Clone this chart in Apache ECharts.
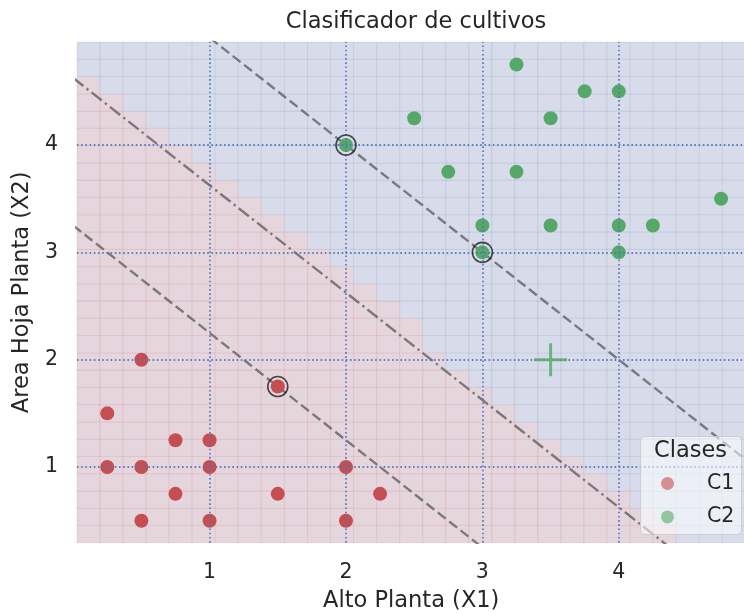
<!DOCTYPE html>
<html>
<head>
<meta charset="utf-8">
<script src="https://cdn.jsdelivr.net/npm/echarts@6/dist/echarts.min.js"></script>
<style>
  html, body { margin: 0; padding: 0; background: #ffffff; }
  #grafico { width: 744px; height: 614px; }
</style>
</head>
<body>
<div id="grafico"></div>
<script>
// Textos
const tituloGrafico = 'Clasificador de cultivos';
const nombreEjeX = 'Alto Planta (X1)';
const nombreEjeY = 'Area Hoja Planta (X2)';
const tituloLeyenda = 'Clases';
const clases = ['C1', 'C2'];

// Muestras de entrenamiento [alto, área]
const puntosC1 = [[0.5, 2], [0.25, 1.5], [0.75, 1.25], [1, 1.25], [0.25, 1], [0.5, 1], [1, 1], [2, 1],
                  [0.75, 0.75], [1.5, 0.75], [2.25, 0.75], [0.5, 0.5], [1, 0.5], [2, 0.5], [1.5, 1.75]];
const puntosC2 = [[3.25, 4.75], [3.75, 4.5], [4, 4.5], [2.5, 4.25], [3.5, 4.25], [2, 4], [2.75, 3.75],
                  [3.25, 3.75], [4.75, 3.5], [3, 3.25], [3.5, 3.25], [4, 3.25], [4.25, 3.25], [3, 3], [4, 3]];
const vectoresSoporte = [[1.5, 1.75], [2, 4], [3, 3]];
const puntoNuevo = [[3.5, 2]];

// Rectas del clasificador (frontera y márgenes)
const fronteraDecision = [[0, 4.625], [4.625, 0]];
const margenInferior = [[0, 3.25], [3.25, 0]];
const margenSuperior = [[0, 6], [6, 0]];

// Ejes
const ticksX = [1, 2, 3, 4];
const ticksY = [1, 2, 3, 4];
const rangoX = [0.028, 4.929];
const rangoY = [0.295, 4.96];

// Malla de la región de decisión: filas asignadas a C1 en cada columna
const celdasMalla = 29;
const filasC1PorColumna = [27, 26, 25, 24, 23, 22, 21, 20, 19, 18, 17, 16, 15, 14, 13,
                           11, 10, 9, 8, 7, 6, 5, 4, 3, 2, 1, 0, 0, 0];

const rojo = '#c44e52';
const verde = '#55a868';
const azulRejilla = '#4f74c0';
const colorTexto = '#262626';
const fuente = 'DejaVu Sans';

function bordesMalla(rango, n) {
  const b = [];
  for (let i = 0; i <= n; i++) b.push(rango[0] + (rango[1] - rango[0]) * i / n);
  return b;
}
const bx = bordesMalla(rangoX, celdasMalla);
const by = bordesMalla(rangoY, celdasMalla);
const celdas = [];
for (let i = 0; i < celdasMalla; i++) {
  for (let j = 0; j < celdasMalla; j++) {
    celdas.push([bx[i], bx[i + 1], by[j], by[j + 1], j < filasC1PorColumna[i] ? 0 : 1]);
  }
}

const estiloLinea = (tipo) => ({ color: 'rgba(80,80,80,0.7)', width: 2.4, type: tipo });

const grafico = echarts.init(document.getElementById('grafico'), null, { renderer: 'canvas' });
grafico.setOption({
  backgroundColor: '#ffffff',
  animation: false,
  textStyle: { fontFamily: fuente, color: colorTexto },
  title: {
    text: tituloGrafico,
    left: 411, top: 6, textAlign: 'center',
    textStyle: { fontFamily: fuente, fontSize: 22.5, fontWeight: 'normal', color: colorTexto }
  },
  grid: { left: 77, right: -1.5, top: 42, bottom: 71.3, containLabel: false, outerBoundsMode: 'none' },
  xAxis: {
    type: 'value', min: rangoX[0], max: rangoX[1],
    name: nombreEjeX, nameLocation: 'middle', nameGap: 47,
    nameTextStyle: { fontFamily: fuente, fontSize: 22.5, color: colorTexto },
    axisLine: { show: false }, axisTick: { show: false }, splitLine: { show: false },
    axisLabel: { customValues: ticksX, margin: 19, fontFamily: fuente, fontSize: 20.5, color: colorTexto }
  },
  yAxis: {
    type: 'value', min: rangoY[0], max: rangoY[1],
    name: nombreEjeY, nameLocation: 'middle', nameGap: 41,
    nameTextStyle: { fontFamily: fuente, fontSize: 22.5, color: colorTexto },
    axisLine: { show: false }, axisTick: { show: false }, splitLine: { show: false },
    axisLabel: { customValues: ticksY, margin: 19, fontFamily: fuente, fontSize: 20.5, color: colorTexto }
  },
  legend: {
    data: clases,
    orient: 'vertical', left: 661, top: 473, padding: 0,
    icon: 'circle', itemWidth: 13, itemHeight: 13, itemGap: 12.4,
    itemStyle: { opacity: 0.6 },
    textStyle: { fontFamily: fuente, fontSize: 20.5, lineHeight: 20, color: colorTexto, padding: [0, 0, 0, 28] },
    z: 20
  },
  graphic: [
    { type: 'rect', left: 640, top: 436, shape: { width: 101, height: 98, r: 4 },
      style: { fill: 'rgba(255,255,255,0.55)', stroke: 'rgba(200,200,200,0.8)', lineWidth: 1 }, z: 19 },
    { type: 'text', left: 654, top: 440,
      style: { text: tituloLeyenda, fontFamily: fuente, fontSize: 22.5, fill: colorTexto }, z: 21 }
  ],
  series: [
    {
      name: 'region', type: 'custom', z: 1, silent: true,
      data: celdas,
      encode: { x: [0, 1], y: [2, 3] },
      renderItem: (params, api) => {
        const p0 = api.coord([api.value(0), api.value(3)]);
        const p1 = api.coord([api.value(1), api.value(2)]);
        const c = api.value(4);
        return {
          type: 'rect',
          shape: { x: p0[0], y: p0[1], width: p1[0] - p0[0], height: p1[1] - p0[1] },
          style: {
            fill: c ? '#d8dcea' : '#e5d6dd',
            stroke: c ? 'rgba(76,114,176,0.13)' : 'rgba(196,78,82,0.13)',
            lineWidth: 1
          }
        };
      }
    },
    {
      name: 'rejilla', type: 'line', z: 2, silent: true, data: [],
      markLine: {
        silent: true, symbol: 'none', label: { show: false },
        lineStyle: { color: azulRejilla, width: 1.8, type: [1.6, 2.6], opacity: 0.9 },
        data: ticksX.map(v => ({ xAxis: v })).concat(ticksY.map(v => ({ yAxis: v })))
      }
    },
    { name: 'margen inferior', type: 'line', z: 3, data: margenInferior, showSymbol: false, clip: true,
      lineStyle: estiloLinea([10, 4.5]) },
    { name: 'frontera', type: 'line', z: 3, data: fronteraDecision, showSymbol: false, clip: true,
      lineStyle: estiloLinea([13, 4, 2.4, 4]) },
    { name: 'margen superior', type: 'line', z: 3, data: margenSuperior, showSymbol: false, clip: true,
      lineStyle: estiloLinea([10, 4.5]) },
    { name: 'C1', type: 'scatter', z: 4, data: puntosC1, symbolSize: 14, itemStyle: { color: rojo, opacity: 1 } },
    { name: 'C2', type: 'scatter', z: 4, data: puntosC2, symbolSize: 14, itemStyle: { color: verde, opacity: 1 } },
    { name: 'vectores', type: 'scatter', z: 5, data: vectoresSoporte, symbolSize: 20,
      itemStyle: { color: 'rgba(0,0,0,0)', borderColor: '#1e1e1e', borderWidth: 1.6 } },
    { name: 'nuevo', type: 'scatter', z: 5, data: puntoNuevo, symbolSize: 33,
      symbol: 'path://M15,0h3v15h15v3h-15v15h-3v-15h-15v-3h15z',
      itemStyle: { color: verde } }
  ]
});
</script>
</body>
</html>
